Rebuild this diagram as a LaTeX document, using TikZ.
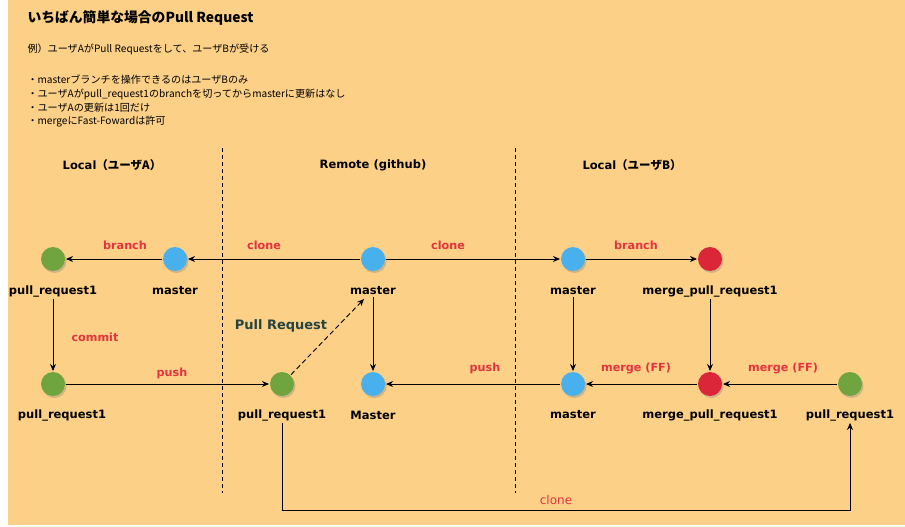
\documentclass[tikz,border=0pt]{standalone}
\usepackage{fontspec}
\setmainfont{DejaVu Sans}
\newfontfamily\jpfont{Noto Sans CJK JP}
\usetikzlibrary{arrows.meta,shadows}

\definecolor{bgorange}{RGB}{252,208,135}
\definecolor{cgreen}{RGB}{112,164,62}
\definecolor{cblue}{RGB}{72,176,236}
\definecolor{cred}{RGB}{218,38,56}
\definecolor{opred}{RGB}{226,52,62}
\definecolor{prdark}{RGB}{36,68,64}

\tikzset{
  commit/.style={shape=circle,fill=#1,minimum size=24pt,inner sep=0pt,outer sep=1pt,%
    drop shadow={shadow xshift=1.5pt,shadow yshift=-2pt,opacity=0.35}},
  brname/.style={font=\bfseries\fontsize{11.5}{13}\selectfont,inner sep=2pt},
  opname/.style={text=opred,font=\bfseries\fontsize{11.2}{13}\selectfont},
  memo/.style={anchor=west,font=\jpfont\fontsize{10.1}{12}\selectfont},
  flow/.style={line width=0.9pt,-{Stealth[length=7pt,width=6pt]}},
}

\begin{document}
\begin{tikzpicture}[x=1pt,y=-1pt]
      \useasboundingbox (0,0) rectangle (905,527) ;
      \fill[white] (0,0) rectangle (905,527) ;
      \fill[bgorange] (8,0) rectangle (905,525) ;
      % title and notes
      \node[anchor=west,font=\jpfont\bfseries\fontsize{13.8}{16}\selectfont] %
      (title) at (24,18) {いちばん簡単な場合のPull Request} ;
      \node[memo] (ex) at (24,49) {例）ユーザAがPull Requestをして、ユーザBが受ける} ;
      \node[memo] (n1) at (24,80) {・masterブランチを操作できるのはユーザBのみ} ;
      \node[memo] (n2) at (24,94) {・ユーザAがpull\_request1のbranchを切ってからmasterに更新はなし} ;
      \node[memo] (n3) at (24,108) {・ユーザAの更新は1回だけ} ;
      \node[memo] (n4) at (24,122) {・mergeにFast-Fowardは許可} ;
      % columns
      \draw[dash pattern=on 4pt off 3pt] (222,148)--(222,493) ;
      \draw[dash pattern=on 4pt off 3pt] (515,148)--(515,493) ;
      \node[brname] (hA) at (112,165) {Local{\jpfont （ユーザA）}} ;
      \node[brname] (hR) at (373,165) {Remote (github)} ;
      \node[brname] (hB) at (632,165) {Local{\jpfont （ユーザB）}} ;
      % commits
      \node[commit=cgreen] (a1) at (53,259) {} ;
      \node[commit=cblue] (am) at (175,259) {} ;
      \node[commit=cblue] (rm) at (373,259) {} ;
      \node[commit=cblue] (bm) at (573,259) {} ;
      \node[commit=cred] (bp) at (710,259) {} ;
      \node[commit=cgreen] (a2) at (53,384) {} ;
      \node[commit=cgreen] (r2) at (282,384) {} ;
      \node[commit=cblue] (rM) at (373,384) {} ;
      \node[commit=cblue] (bm2) at (573,384) {} ;
      \node[commit=cred] (bp2) at (710,384) {} ;
      \node[commit=cgreen] (b3) at (850,384) {} ;
      % branch names
      \node[brname] (a1t) at (53,291) {pull\_request1} ;
      \node[brname] (amt) at (175,291) {master} ;
      \node[brname] (rmt) at (373,291) {master} ;
      \node[brname] (bmt) at (573,291) {master} ;
      \node[brname] (bpt) at (710,291) {merge\_pull\_request1} ;
      \node[brname] (a2t) at (62,415) {pull\_request1} ;
      \node[brname] (r2t) at (282,415) {pull\_request1} ;
      \node[brname] (rMt) at (373,415) {Master} ;
      \node[brname] (bm2t) at (573,415) {master} ;
      \node[brname] (bp2t) at (710,415) {merge\_pull\_request1} ;
      \node[brname] (b3t) at (850,415) {pull\_request1} ;
      % operations
      \draw[flow] (am)--(a1) ;
      \draw[flow] (rm)--(am) ;
      \draw[flow] (rm)--(bm) ;
      \draw[flow] (bm)--(bp) ;
      \draw[flow] (a1t.south)--(a2) ;
      \draw[flow] (rmt.south)--(rM) ;
      \draw[flow] (bmt.south)--(bm2) ;
      \draw[flow] (bpt.south)--(bp2) ;
      \draw[flow] (a2)--(r2) ;
      \draw[flow] (bm2)--(rM) ;
      \draw[flow] (bp2)--(bm2) ;
      \draw[flow] (b3)--(bp2) ;
      \coordinate (prtip) at (364,299) ;
      \draw[flow,dash pattern=on 5pt off 3pt] (r2)--(prtip) ;
      \draw[flow] (r2t.south)--++(0,88) -| (b3t.south) ;
      \node[opname] (opbr1) at (125,245) {branch} ;
      \node[opname] (opcl1) at (264,245) {clone} ;
      \node[opname] (opcl2) at (448,245) {clone} ;
      \node[opname] (opbr2) at (636,245) {branch} ;
      \node[opname] (opcm) at (95,337) {commit} ;
      \node[opname] (opps1) at (172,373) {push} ;
      \node[opname] (opps2) at (485,368) {push} ;
      \node[opname] (opmg1) at (636,368) {merge (FF)} ;
      \node[opname] (opmg2) at (783,368) {merge (FF)} ;
      \node[text=prdark,font=\bfseries\fontsize{13}{15}\selectfont] %
      (opprq) at (281,326) {Pull Request} ;
      \node[text=opred,font=\fontsize{12}{14}\selectfont] (opcl3) at (556,500) {clone} ;
    \end{tikzpicture}
\end{document}
